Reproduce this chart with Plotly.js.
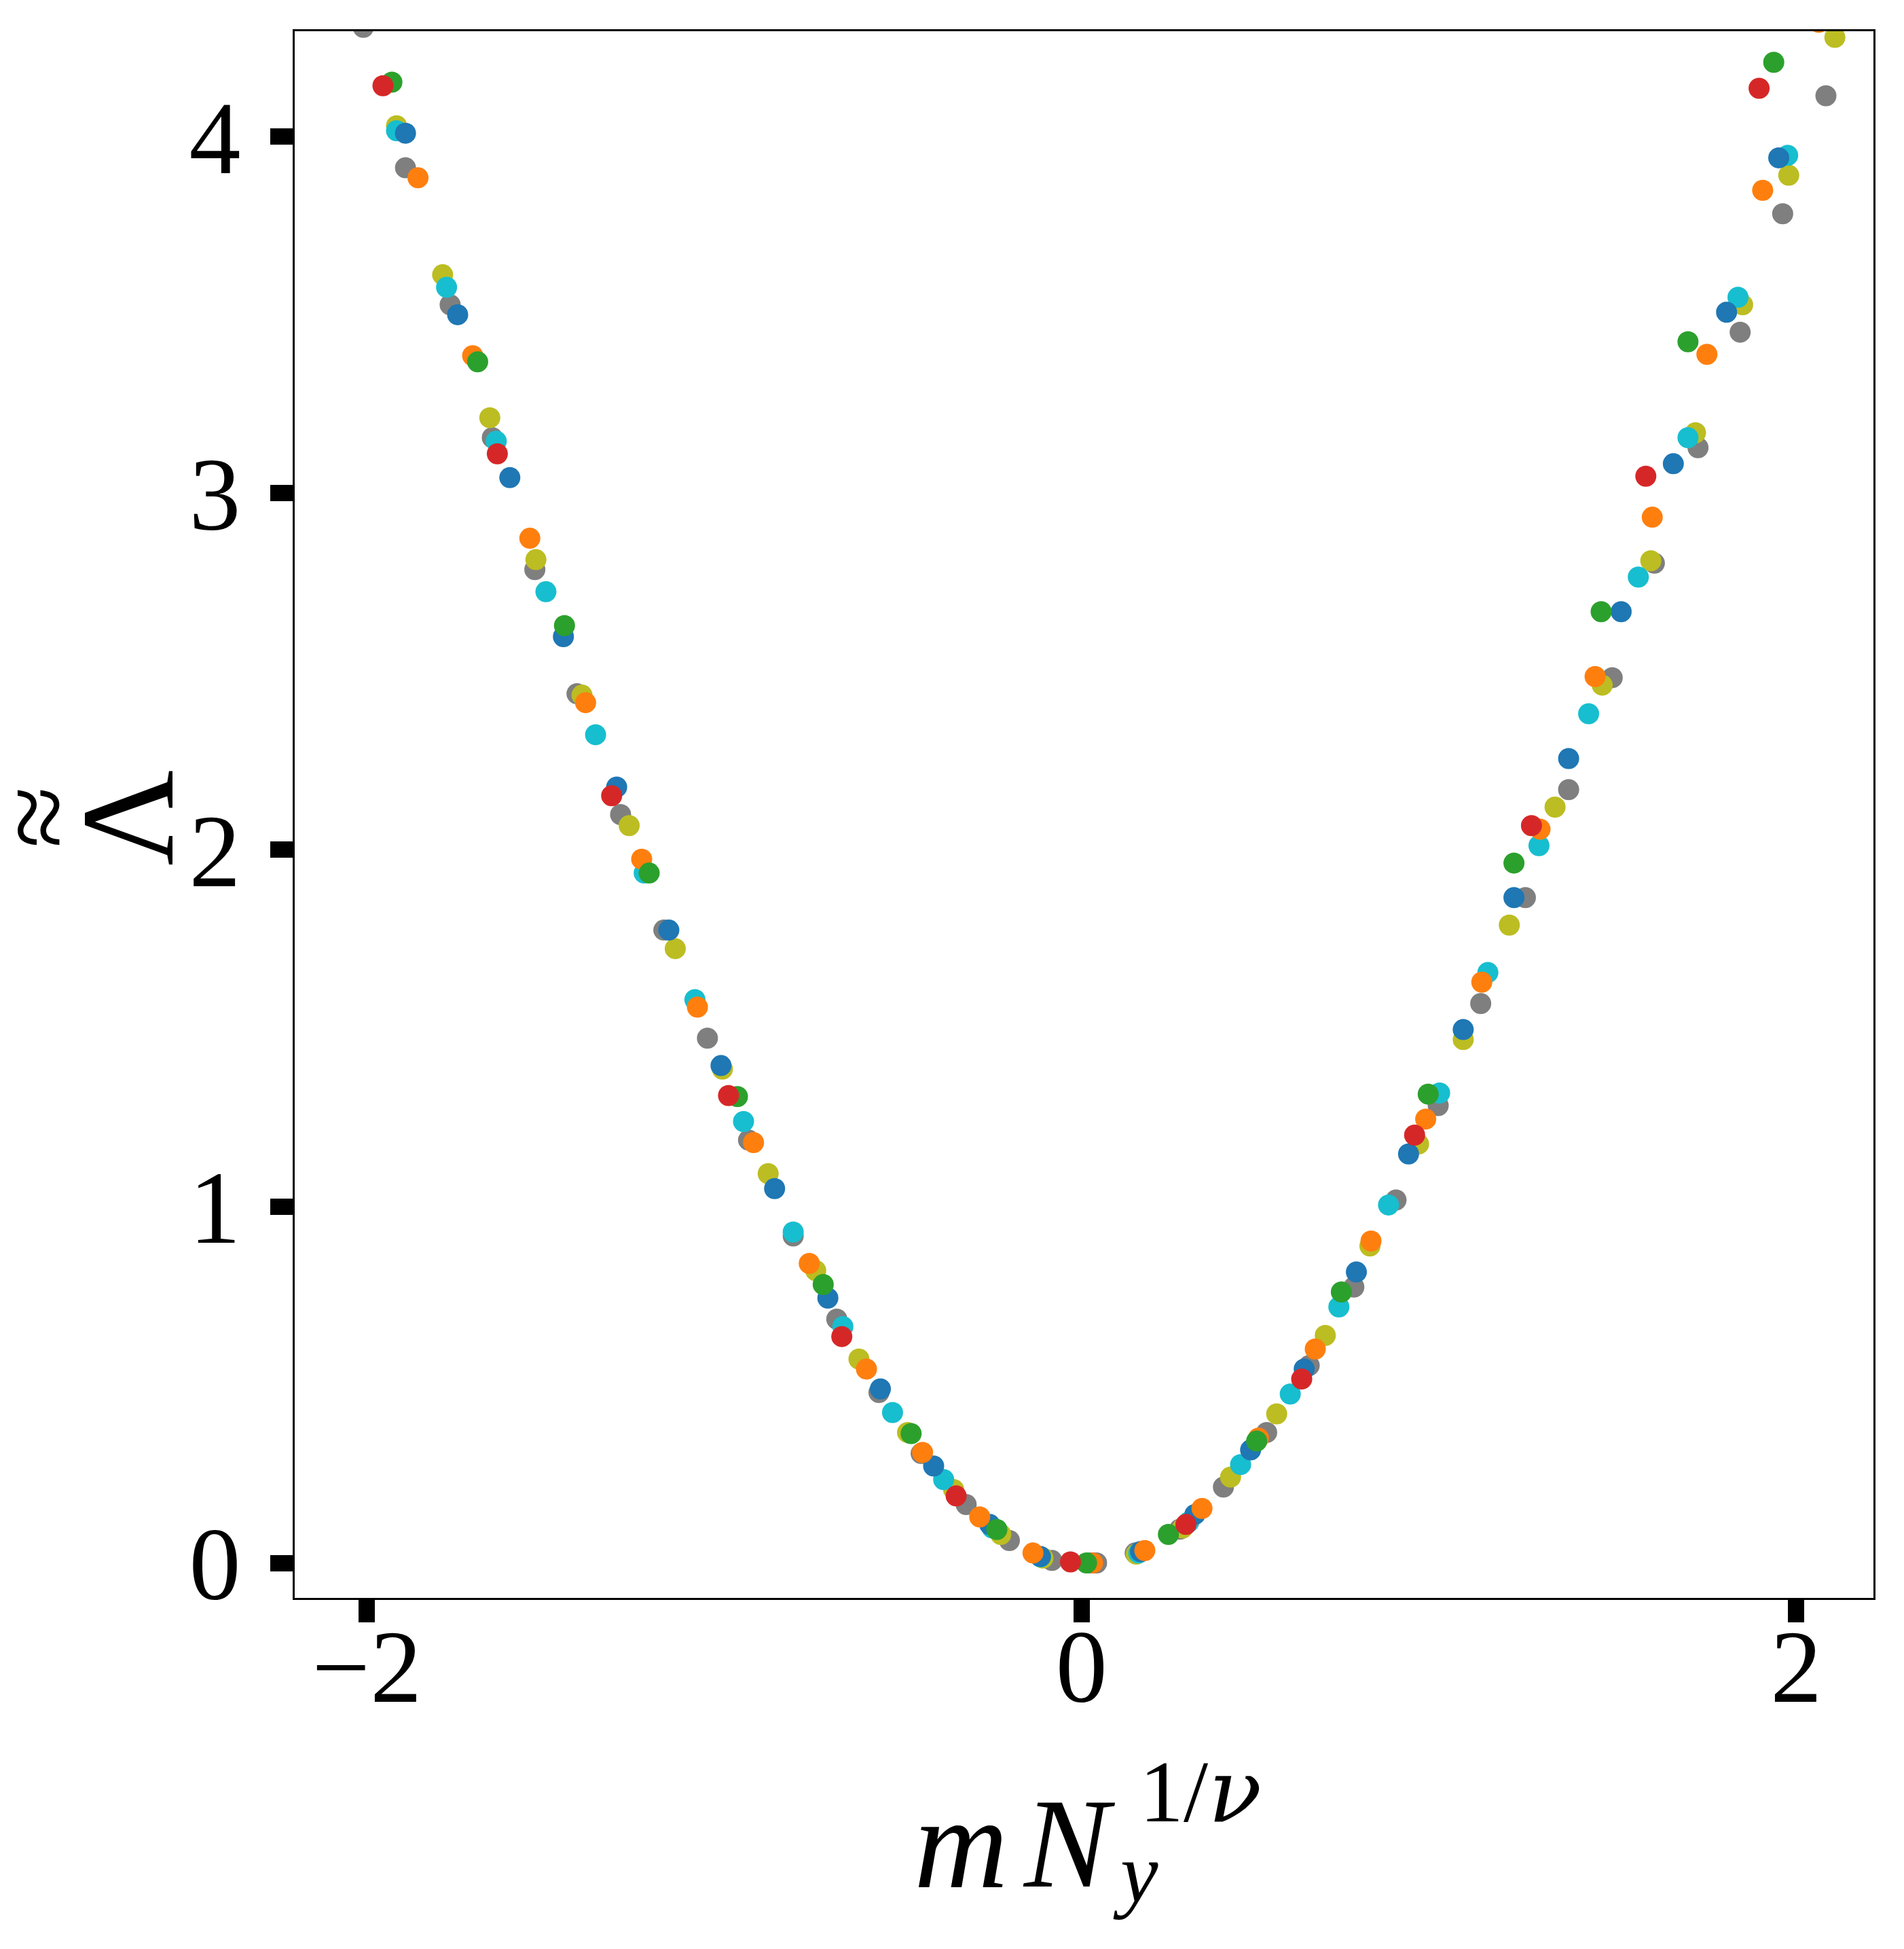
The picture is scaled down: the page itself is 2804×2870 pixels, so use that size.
<!DOCTYPE html>
<html>
<head>
<meta charset="utf-8">
<script src="https://cdn.plot.ly/plotly-3.0.1.min.js"></script>
<style>
  html, body { margin: 0; padding: 0; background: #ffffff; }
  #chart { width: 2804px; height: 2870px; }
</style>
</head>
<body>
<div id="chart"></div>
<script>
// ---- Data ----
const grayX = [-2.010, -1.892, -1.767, -1.649, -1.530, -1.412, -1.290, -1.169, -1.047, -0.932, -0.807, -0.685, -0.567, -0.449, -0.323, -0.202, -0.083, 0.042, 0.150, 0.275, 0.397, 0.518, 0.637, 0.762, 0.880, 0.998, 1.117, 1.242, 1.363, 1.485, 1.603, 1.725, 1.843, 1.962, 2.083];
const grayY = [4.307, 3.913, 3.529, 3.156, 2.786, 2.438, 2.099, 1.775, 1.472, 1.186, 0.917, 0.684, 0.478, 0.307, 0.164, 0.063, 0.007, 0.000, 0.028, 0.095, 0.213, 0.366, 0.554, 0.774, 1.018, 1.283, 1.569, 1.866, 2.169, 2.483, 2.804, 3.128, 3.452, 3.784, 4.115];

const oliveX = [-1.917, -1.788, -1.656, -1.527, -1.398, -1.266, -1.137, -1.005, -0.877, -0.744, -0.623, -0.487, -0.358, -0.226, -0.108, 0.025, 0.153, 0.283, 0.417, 0.546, 0.682, 0.807, 0.943, 1.068, 1.197, 1.325, 1.457, 1.593, 1.718, 1.850, 1.979, 2.108];
const oliveY = [4.031, 3.613, 3.212, 2.814, 2.434, 2.068, 1.723, 1.385, 1.092, 0.820, 0.572, 0.366, 0.206, 0.080, 0.014, 0.000, 0.025, 0.098, 0.241, 0.418, 0.638, 0.889, 1.175, 1.468, 1.789, 2.120, 2.462, 2.811, 3.170, 3.529, 3.892, 4.279];

const cyanX = [-1.917, -1.777, -1.638, -1.499, -1.360, -1.224, -1.082, -0.946, -0.807, -0.668, -0.529, -0.386, -0.250, -0.115, 0.022, 0.160, 0.300, 0.445, 0.584, 0.720, 0.859, 1.002, 1.137, 1.280, 1.419, 1.558, 1.697, 1.837, 1.976];
const cyanY = [4.017, 3.578, 3.146, 2.724, 2.323, 1.935, 1.580, 1.238, 0.928, 0.663, 0.422, 0.234, 0.098, 0.017, 0.000, 0.028, 0.115, 0.276, 0.474, 0.718, 1.004, 1.318, 1.656, 2.012, 2.382, 2.765, 3.156, 3.550, 3.948];

const blueX = [-1.892, -1.746, -1.600, -1.450, -1.301, -1.155, -1.009, -0.859, -0.710, -0.563, -0.414, -0.257, -0.115, 0.030, 0.165, 0.317, 0.473, 0.623, 0.769, 0.915, 1.068, 1.210, 1.363, 1.510, 1.656, 1.805, 1.951];
const blueY = [4.010, 3.501, 3.044, 2.598, 2.176, 1.775, 1.395, 1.050, 0.743, 0.488, 0.272, 0.108, 0.018, 0.000, 0.032, 0.136, 0.317, 0.544, 0.816, 1.147, 1.496, 1.866, 2.256, 2.668, 3.083, 3.508, 3.941];

const orangeX = [-1.857, -1.704, -1.544, -1.388, -1.231, -1.075, -0.918, -0.762, -0.602, -0.445, -0.285, -0.136, 0.031, 0.177, 0.337, 0.495, 0.654, 0.810, 0.963, 1.120, 1.283, 1.437, 1.597, 1.750, 1.906, 2.063];
const orangeY = [3.885, 3.386, 2.874, 2.413, 1.974, 1.559, 1.179, 0.840, 0.544, 0.310, 0.129, 0.028, 0.000, 0.035, 0.153, 0.350, 0.600, 0.903, 1.245, 1.629, 2.058, 2.486, 2.933, 3.390, 3.850, 4.321];

const greenX = [-1.930, -1.690, -1.447, -1.210, -0.963, -0.723, -0.477, -0.237, 0.014, 0.243, 0.490, 0.727, 0.970, 1.210, 1.454, 1.697, 1.937];
const greenY = [4.153, 3.369, 2.629, 1.935, 1.308, 0.781, 0.363, 0.094, 0.000, 0.080, 0.342, 0.760, 1.315, 1.963, 2.668, 3.425, 4.209];

const redX = [-1.955, -1.635, -1.315, -0.988, -0.671, -0.351, -0.031, 0.292, 0.616, 0.932, 1.259, 1.579, 1.896];
const redY = [4.143, 3.111, 2.152, 1.311, 0.635, 0.188, 0.003, 0.108, 0.516, 1.200, 2.068, 3.048, 4.136];

const xTickVals = [-2, 0, 2];
const yTickVals = [0, 1, 2, 3, 4];

const seriesX = [grayX, oliveX, cyanX, blueX, orangeX, greenX, redX];
const seriesY = [grayY, oliveY, cyanY, blueY, orangeY, greenY, redY];
const seriesColors = ['#7f7f7f', '#bcbd22', '#17becf', '#1f77b4', '#ff7f0e', '#2ca02c', '#d62728'];

// ---- Build traces ----
const traces = seriesX.map((xs, i) => ({
  type: 'scatter',
  mode: 'markers',
  x: xs,
  y: seriesY[i],
  marker: { color: seriesColors[i], size: 31, line: { width: 0 } },
  hoverinfo: 'skip',
  cliponaxis: true
}));

const serif = 'Liberation Serif, Times New Roman, serif';

const axisCommon = {
  showgrid: false,
  zeroline: false,
  showline: true,
  linecolor: '#000000',
  linewidth: 3,
  mirror: true,
  ticks: 'outside',
  ticklen: 33,
  tickwidth: 24,
  tickcolor: '#000000',
  tickfont: { family: serif, size: 152, color: '#000000' }
};

const layout = {
  width: 2804,
  height: 2870,
  paper_bgcolor: '#ffffff',
  plot_bgcolor: '#ffffff',
  showlegend: false,
  margin: { l: 434, r: 45, t: 46, b: 517 },
  xaxis: Object.assign({}, axisCommon, {
    range: [-2.202, 2.216],
    tickmode: 'array',
    tickvals: xTickVals,
    ticklabelstandoff: -65,
    title: { text: '' }
  }),
  yaxis: Object.assign({}, axisCommon, {
    range: [-0.098, 4.296],
    tickmode: 'array',
    tickvals: yTickVals,
    ticklabelstandoff: 13,
    title: { text: '' }
  }),
  annotations: [
    // x-axis title: m N_y^{1/ν}
    { xref: 'paper', yref: 'paper', x: 0, y: 0, xshift: 981, yshift: -361,
      xanchor: 'center', yanchor: 'middle', showarrow: false,
      text: '<i>m</i>', font: { family: serif, size: 192, color: '#000000' } },
    { xref: 'paper', yref: 'paper', x: 0, y: 0, xshift: 1140, yshift: -361,
      xanchor: 'center', yanchor: 'middle', showarrow: false,
      text: '<i>N</i>', font: { family: serif, size: 188, color: '#000000' } },
    { xref: 'paper', yref: 'paper', x: 0, y: 0, xshift: 1238, yshift: -405,
      xanchor: 'center', yanchor: 'middle', showarrow: false,
      text: '<i>y</i>', font: { family: serif, size: 125, color: '#000000' } },
    { xref: 'paper', yref: 'paper', x: 0, y: 0, xshift: 1334, yshift: -284,
      xanchor: 'center', yanchor: 'middle', showarrow: false,
      text: '1/<span style="font-family:DejaVu Serif"><i>ν</i></span>',
      font: { family: serif, size: 130, color: '#000000' } },
    // y-axis title: Λ with a double tilde above it (rotated)
    { xref: 'paper', yref: 'paper', x: 0, y: 0, xshift: -246, yshift: 1148,
      xanchor: 'center', yanchor: 'middle', showarrow: false, textangle: -90,
      text: 'Λ', font: { family: serif, size: 195, color: '#000000' } },
    { xref: 'paper', yref: 'paper', x: 0, y: 0, xshift: -379, yshift: 1150,
      xanchor: 'center', yanchor: 'middle', showarrow: false, textangle: -90,
      text: '≈', font: { family: serif, size: 167, color: '#000000' } }
  ]
};

Plotly.newPlot('chart', traces, layout, { displayModeBar: false, staticPlot: true });
</script>
</body>
</html>
